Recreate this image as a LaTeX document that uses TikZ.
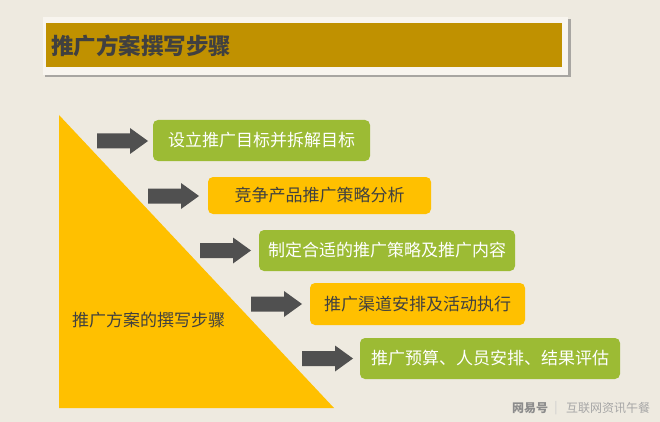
\documentclass[tikz,border=0pt]{standalone}
\usepackage{fontspec}
\setmainfont{Noto Sans CJK SC}
\newfontfamily\cjk{Noto Sans CJK SC}
\definecolor{bgc}{HTML}{EEEAE0}
\definecolor{framec}{HTML}{F8F5EF}
\definecolor{shadowc}{HTML}{A8A6A2}
\definecolor{goldc}{HTML}{C09100}
\definecolor{yellowc}{HTML}{FFC000}
\definecolor{greenc}{HTML}{9CBB34}
\definecolor{darktext}{HTML}{404040}
\definecolor{arrowc}{HTML}{505050}
\tikzset{
  stepbox/.style={rounded corners=5pt, inner sep=0pt, font=\cjk\fontsize{17}{17}\selectfont},
  gbox/.style={stepbox, fill=greenc, text=white},
  ybox/.style={stepbox, fill=yellowc, text=darktext},
}
\begin{document}
\begin{tikzpicture}[x=1pt,y=-1pt]
\fill[bgc] (0,0) rectangle (660,422);
\useasboundingbox (0,0) rectangle (660,422);
% title frame
\fill[shadowc] (45,19) rectangle (571,77);
\fill[framec] (43,17) rectangle (568,75);
\fill[goldc] (46,23) rectangle (562,67);
\node[anchor=west, inner sep=0pt, text=darktext, font=\cjk\bfseries\fontsize{22.5}{22.5}\selectfont] (title) at (51,46) {推广方案撰写步骤};
% triangle
\fill[yellowc] (59,115) -- (59,408) -- (334,408) -- cycle;
\node[anchor=west, inner sep=0pt, text=darktext, font=\cjk\fontsize{17}{17}\selectfont] (lab) at (72,320) {推广方案的撰写步骤};
% boxes
\node[gbox, minimum width=217pt, minimum height=41pt] (b1) at (261.5,140.5) {设立推广目标并拆解目标};
\node[ybox, minimum width=223pt, minimum height=37pt] (b2) at (319.5,195.5) {竞争产品推广策略分析};
\node[gbox, minimum width=256pt, minimum height=41pt] (b3) at (387,250.5) {制定合适的推广策略及推广内容};
\node[ybox, minimum width=215pt, minimum height=42pt] (b4) at (417.5,304) {推广渠道安排及活动执行};
\node[gbox, minimum width=260pt, minimum height=41pt] (b5) at (490,358.5) {推广预算、人员安排、结果评估};
% block arrows
\foreach \sx/\cy in {97/141,148/196,200/250.5,251/304,302/358.5}{
  \fill[arrowc] (\sx,\cy-7.5) -- (\sx+33,\cy-7.5) -- (\sx+33,\cy-13) -- (\sx+51,\cy)
     -- (\sx+33,\cy+13) -- (\sx+33,\cy+7.5) -- (\sx,\cy+7.5) -- cycle;
}
% watermark
\node[anchor=west, inner sep=0pt, text=gray!90, font=\cjk\bfseries\fontsize{12}{12}\selectfont] (wm1) at (512,408) {网易号};
\node[anchor=center, inner sep=0pt, text=gray!40, font=\cjk\fontsize{12}{12}\selectfont] (wmsep) at (556,408) {|};
\node[anchor=west, inner sep=0pt, text=gray!70, font=\cjk\fontsize{12}{12}\selectfont] (wm2) at (566,408) {互联网资讯午餐};
\end{tikzpicture}
\end{document}
